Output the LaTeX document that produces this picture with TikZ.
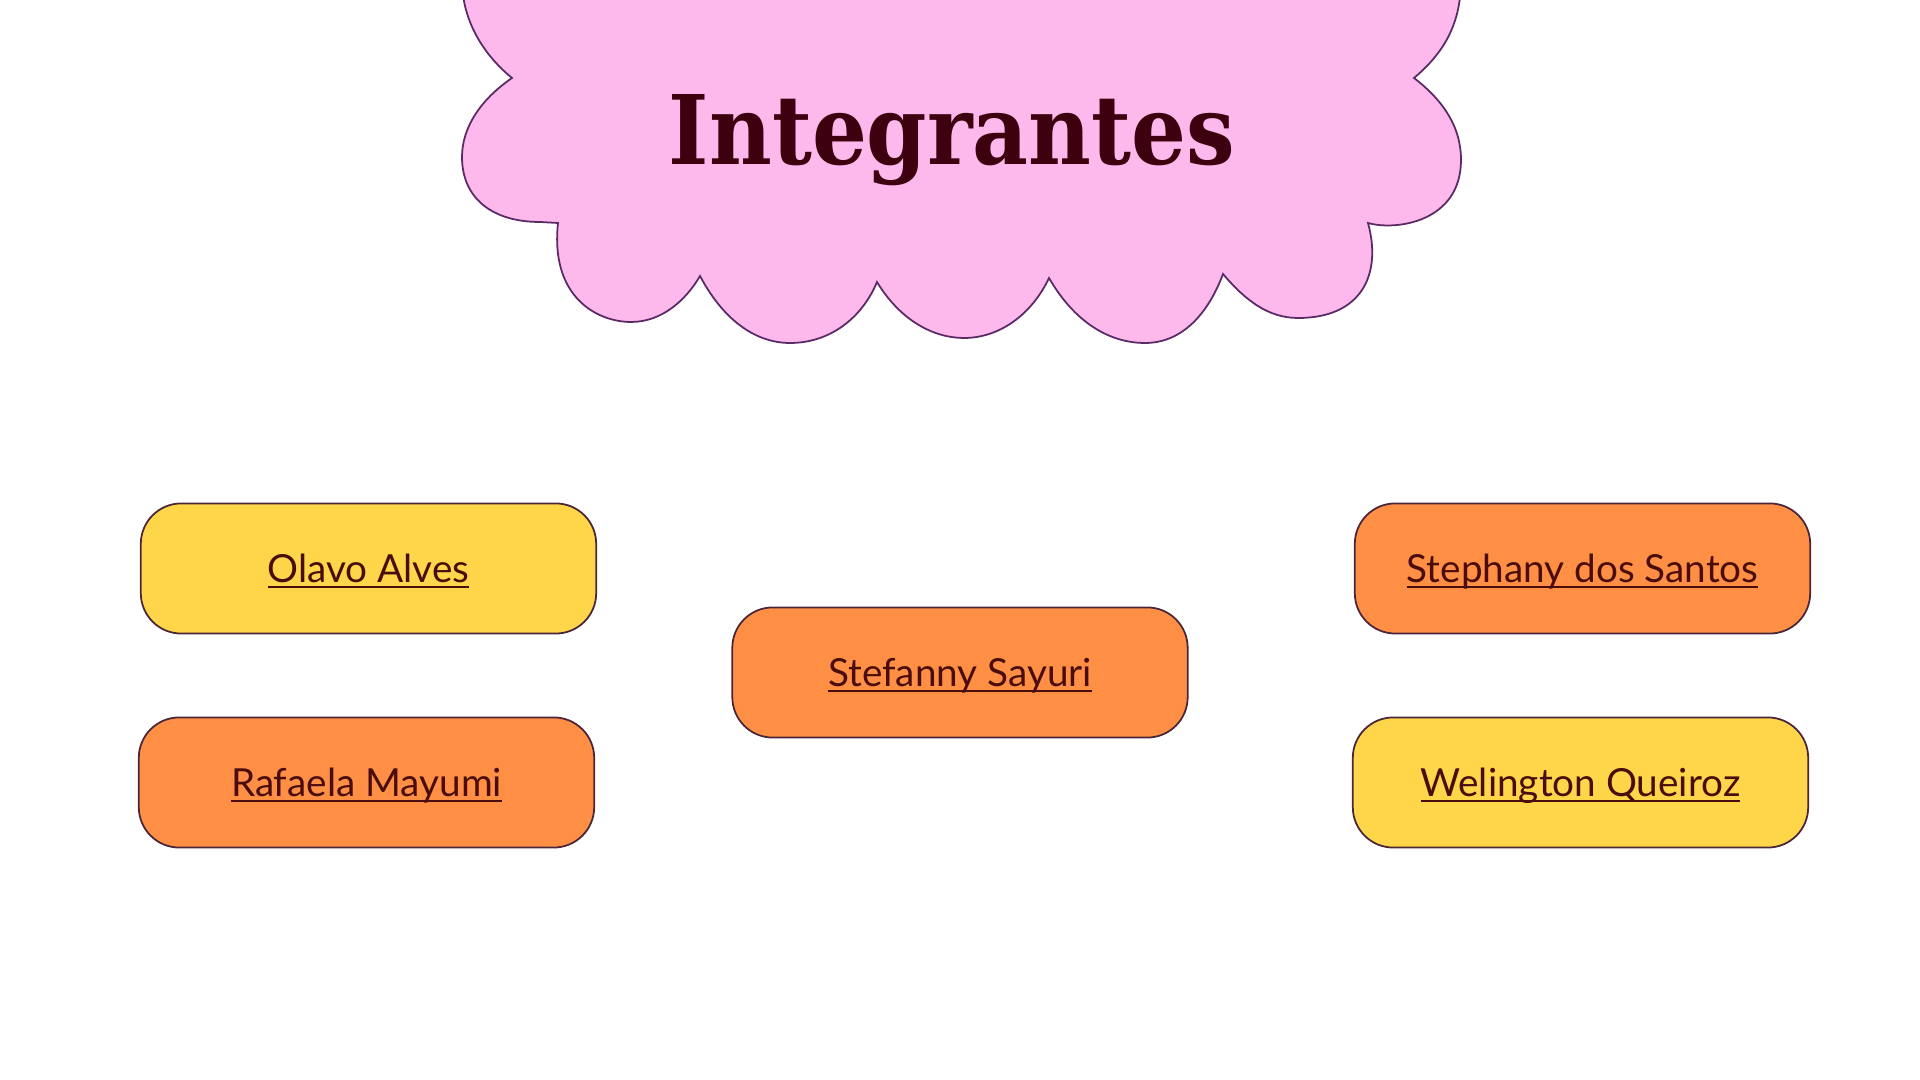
\documentclass[tikz,border=0pt]{standalone}
\usepackage{fontspec}
\setmainfont{Lato}
\newfontfamily\titlefont{DejaVu Serif Condensed}
\definecolor{cloudpink}{HTML}{FDB8EC}
\definecolor{cloudline}{HTML}{5A2A66}
\definecolor{sunyellow}{HTML}{FFD54A}
\definecolor{warmorange}{HTML}{FF8F45}
\definecolor{boxline}{HTML}{4A2638}
\definecolor{titleink}{HTML}{3C000E}
\definecolor{nameink}{HTML}{4A0C0C}
% underline at a fixed depth, crossing the descenders
\newsavebox{\namebox}
\newcommand{\nameline}[1]{\sbox{\namebox}{#1}%
  \raisebox{-0.8pt}[\height][\depth]{\rlap{\rule[-1.6pt]{\wd\namebox}{0.6pt}}\usebox{\namebox}}}
\tikzset{
  namebox/.style={draw=boxline, line width=0.5pt, rounded corners=11.5pt,
    minimum width=129.5pt, minimum height=37pt, inner sep=0pt,
    text=nameink, font=\fontsize{11}{13}\selectfont},
  yellowbox/.style={namebox, fill=sunyellow},
  orangebox/.style={namebox, fill=warmorange},
}
\begin{document}
\begin{tikzpicture}[x=0.01cm, y=-0.01cm]
\useasboundingbox (0,0) rectangle (1920,1080);
\fill[white] (0,0) rectangle (1920,1080);
\clip (0,0) rectangle (1920,1080);

% scalloped cloud banner hanging from the top edge
\draw[fill=cloudpink, draw=cloudline, line width=0.5pt]
  (462,-20) .. controls (462,22) and (485,56) .. (512,78)
  .. controls (480,100) and (462,128) .. (462,157)
  .. controls (462,198) and (492,222) .. (540,222)
  -- (558,223)
  .. controls (550,298) and (598,322) .. (631,322)
  .. controls (662,322) and (686,300) .. (700,276)
  .. controls (725,323) and (758,343) .. (790,343)
  .. controls (830,343) and (862,318) .. (877,282)
  .. controls (900,320) and (933,338) .. (964,338)
  .. controls (1000,338) and (1032,314) .. (1049,278)
  .. controls (1075,323) and (1110,343) .. (1145,343)
  .. controls (1182,343) and (1208,314) .. (1223,274)
  .. controls (1245,300) and (1268,318) .. (1298,318)
  .. controls (1362,318) and (1382,274) .. (1368,223)
  .. controls (1396,231) and (1461,222) .. (1461,160)
  .. controls (1461,124) and (1440,98) .. (1414,78)
  .. controls (1440,56) and (1461,28) .. (1461,-20)
  -- cycle;

\node[text=titleink, inner sep=0pt, anchor=base] (title) at (952,165)
  {\resizebox{161pt}{!}{\titlefont\bfseries Integrantes}};

% member name tags
\node[yellowbox] (olavo) at (368.5,568.5) {\nameline{Olavo Alves}};
\node[orangebox] (rafaela) at (366.5,782.5) {\nameline{Rafaela Mayumi}};
\node[orangebox] (stefanny) at (960,672.5) {\nameline{Stefanny Sayuri}};
\node[orangebox] (stephany) at (1582.5,568.5) {\nameline{Stephany dos Santos}};
\node[yellowbox] (welington) at (1580.5,782.5) {\nameline{Welington Queiroz}};
\end{tikzpicture}
\end{document}
